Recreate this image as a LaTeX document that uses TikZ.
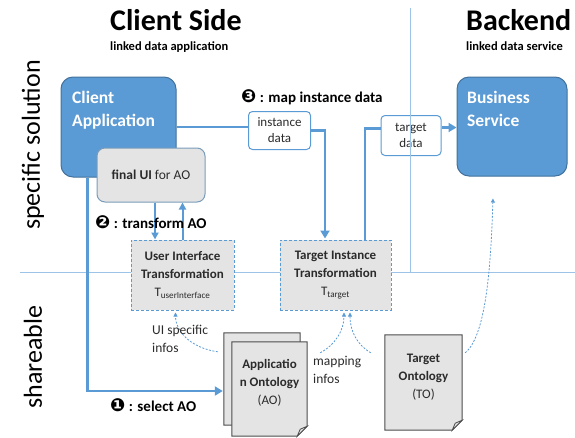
\documentclass[tikz,border=0pt]{standalone}
\usepackage{fontspec}
\setmainfont{Carlito}
\newfontfamily\dingfont{DejaVu Sans}
\usetikzlibrary{arrows.meta,calc}
\definecolor{mblue}{HTML}{5B9BD5}
\definecolor{dblue}{HTML}{41719C}
\definecolor{lblue}{HTML}{9DC3E6}
\definecolor{gfill}{HTML}{E4E4E4}
\definecolor{tgray}{HTML}{2B2B2B}
\newcommand\fs[2]{\fontsize{#1}{#2}\selectfont}
\newcommand\docpath[1]{%
  \path[docst] (#1.north west) -- (#1.north east) -- ([yshift=10pt]#1.south east)
     -- ([xshift=-10pt]#1.south east) -- (#1.south west) -- cycle;
  \path[foldst] ([yshift=10pt]#1.south east) -- ([xshift=-7pt,yshift=7pt]#1.south east)
     -- ([xshift=-10pt]#1.south east) -- cycle;}
\tikzset{
  bigline/.style={draw=mblue, line width=2.8pt},
  bigarrow/.style={bigline, -{Triangle[length=8pt,width=9pt]}},
  midarrow/.style={draw=mblue, line width=2pt, -{Triangle[length=7pt,width=7pt]}},
  dcurve/.style={draw=mblue, line width=0.8pt, dash pattern=on 2pt off 1.5pt, -{Triangle[length=4pt,width=4pt]}},
  bluebox/.style={draw=dblue, fill=mblue, line width=1pt, rounded corners=12pt},
  guibox/.style={draw=dblue!70, fill=gfill, line width=1pt, rounded corners=8pt, text=tgray, font=\fs{13.5}{16}},
  databox/.style={draw=mblue, fill=white, line width=1pt, rounded corners=4pt, align=center, text=tgray, font=\fs{13}{16}},
  trbox/.style={draw=mblue, dash pattern=on 3pt off 2pt, fill=gfill, line width=1pt, align=center, text=tgray, font=\fs{13}{18}},
  docbg/.style={draw=none, inner sep=0pt},
  docst/.style={draw=gray!60!black, fill=gfill, line width=1pt},
  foldst/.style={draw=gray!60!black, fill=gray!25, line width=0.8pt},
  doctext/.style={align=center, text=tgray, font=\fs{13}{18}},
  sepline/.style={draw=lblue, line width=0.7pt},
  boxtitle/.style={anchor=base west, text=white, font=\fs{17.5}{21}\bfseries, inner sep=0pt},
  bigtitle/.style={anchor=base west, inner sep=0pt, font=\fs{30}{31}\bfseries},
  subtitle/.style={anchor=base west, inner sep=0pt, font=\fs{12.5}{14}\bfseries},
  sidelabel/.style={rotate=90, font=\fs{26}{28}, inner sep=0pt},
  steplabel/.style={anchor=base west, inner sep=0pt, text=black, font=\fs{15}{17}\bfseries},
  notelabel/.style={anchor=north west, align=left, inner sep=0pt, text=tgray, font=\fs{13.5}{18}},
}
\newcommand\stepnum[1]{{\dingfont\fs{18}{18}\char"#1}}
\begin{document}
\begin{tikzpicture}[x=1pt,y=-1pt]
\useasboundingbox (0,0) rectangle (575,437);

% horizontal separator (behind boxes)
\coordinate (hl) at (20,272);
\coordinate (hr) at (575,272);
\draw[sepline] (hl) -- (hr);

% titles
\node[bigtitle] (cst) at (110,30) {Client Side};
\node[subtitle] (css) at (110,50.5) {linked data application};
\node[bigtitle] (bet) at (466,30) {Backend};
\node[subtitle] (bes) at (466,50.5) {linked data service};

% side labels
\node[sidelabel] (sps) at (33,145) {specific solution};
\node[sidelabel] (shr) at (33,357) {shareable};

% main boxes
\node[bluebox, minimum width=115pt, minimum height=100pt] (ca) at (118.5,127) {};
\node[boxtitle] (ca1) at (72,103) {Client};
\node[boxtitle] (ca2) at (72,126) {Application};
\node[bluebox, minimum width=110pt, minimum height=99pt] (bs) at (512,126.5) {};
\node[boxtitle] (bs1) at (467,103) {Business};
\node[boxtitle] (bs2) at (467,126) {Service};

\node[guibox, minimum width=108pt, minimum height=54pt] (fui) at (151,175) {\textbf{final UI} for AO};

\node[databox, minimum width=62pt, minimum height=38pt, inner sep=1pt] (id) at (279.5,130.5) {instance\\data};
\node[databox, minimum width=60pt, minimum height=40pt, inner sep=1pt] (td) at (411,135.5) {target\\data};

% vertical separator (over target data box)
\coordinate (vt) at (410,8);
\coordinate (vb) at (410,272);
\draw[sepline] (vt) -- (vb);

% transformation boxes
\node[trbox, minimum width=103pt, minimum height=70pt] (uit) at (182.5,275)
  {\textbf{User Interface}\\\textbf{Transformation}\\T\textsubscript{userInterface}};
\node[trbox, minimum width=111pt, minimum height=70pt] (tit) at (335.5,275)
  {\textbf{Target Instance}\\\textbf{Transformation}\\T\textsubscript{target}};

% documents
\node[docbg, minimum width=76pt, minimum height=92pt] (aob) at (262,379) {};
\docpath{aob}
\node[docbg, minimum width=75pt, minimum height=94pt] (aof) at (269.5,389) {};
\docpath{aof}
\node[doctext] (aot) at (269.5,383) {\textbf{Applicatio}\\\textbf{n Ontology}\\(AO)};
\node[docbg, minimum width=77pt, minimum height=95pt] (tob) at (423.5,382.5) {};
\docpath{tob}
\node[doctext] (tot) at (423.5,377) {\textbf{Target}\\\textbf{Ontology}\\(TO)};

% thick connectors
\draw[bigline] (ca.east) -- (ca.east -| id.west);
\coordinate (ta) at ($(tit.north)+(-10.5,-1)$);
\draw[bigarrow] (id.east) -| (ta);
\coordinate (tb) at ($(tit.north)+(29.5,0)$);
\coordinate (tdw) at ($(td.west)+(0,-7)$);
\draw[bigline] (tb) |- (tdw);
\coordinate (tde) at ($(td.east)+(0,-8)$);
\draw[bigarrow] (tde) -- (tde -| bs.west);
\coordinate (s1) at ($(ca.south west)+(27,0)$);
\coordinate (se) at ($(aob.west)+(-1,12)$);
\draw[bigarrow] (s1) |- (se);

% final UI <-> UI transformation
\coordinate (d1) at ($(fui.south)+(4,0)$);
\draw[midarrow] (d1) -- (d1 |- uit.north);
\coordinate (u1) at ($(uit.north)+(0,0)$);
\draw[midarrow] (u1) -- (u1 |- fui.south);

% dashed info curves
\coordinate (c1s) at ($(aob.north west)+(-6,19)$);
\coordinate (c1e) at ($(uit.south)+(-7,2)$);
\draw[dcurve] (c1s) .. controls ($(c1s)+(-28,-4)$) and ($(c1e)+(0,18)$) .. (c1e);
\coordinate (c2s) at ($(aof.north east)+(13,11)$);
\coordinate (c2e) at ($(tit.south)+(8.5,2)$);
\draw[dcurve] (c2s) .. controls ($(c2s)+(15,-8)$) and ($(c2e)+(0,18)$) .. (c2e);
\coordinate (c3s) at ($(tob.north west)+(-14,18)$);
\coordinate (c3e) at ($(tit.south)+(14.5,2)$);
\draw[dcurve] (c3s) .. controls ($(c3s)+(-14,-8)$) and ($(c3e)+(0,18)$) .. (c3e);
\coordinate (c4s) at ($(tob.north east)+(3,18)$);
\coordinate (c4e) at ($(bs.south)+(-19,22)$);
\draw[dcurve] (c4s) .. controls ($(c4s)+(22,-18)$) and ($(c4e)+(-2,60)$) .. (c4e);

% notes
\node[notelabel] (uin) at (152,325) {UI specific\\infos};
\node[notelabel] (mpn) at (313,356) {mapping\\infos};

% step labels
\node[steplabel] (st1) at (110,411) {\stepnum{2776}~: select AO};
\node[steplabel] (st2) at (95,228) {\stepnum{2777}~: transform AO};
\node[steplabel] (st3) at (241,102) {\stepnum{2778}~: map instance data};
\end{tikzpicture}
\end{document}
